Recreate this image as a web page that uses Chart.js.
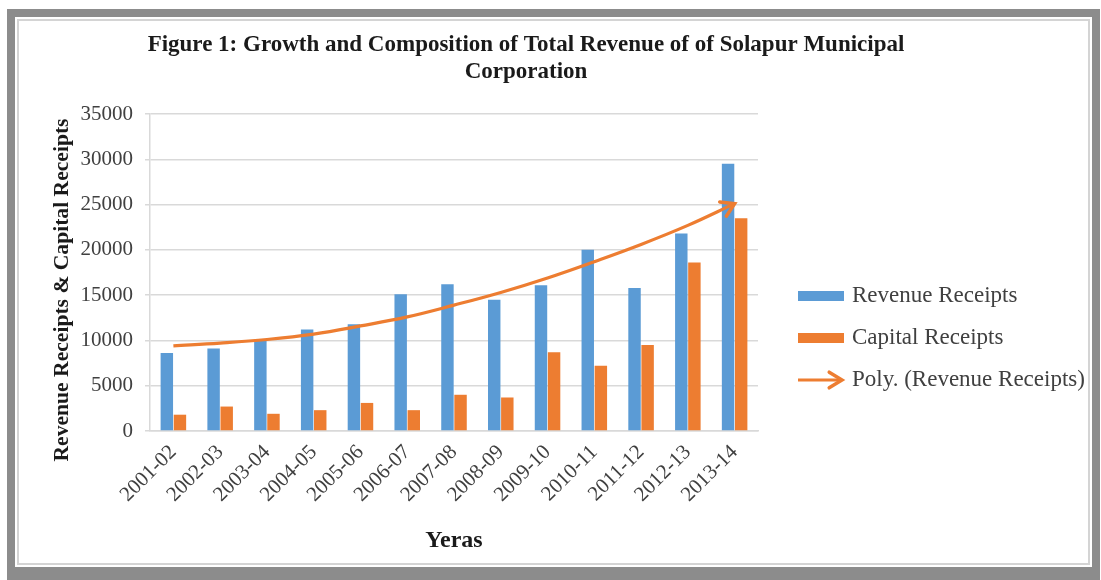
<!DOCTYPE html>
<html>
<head>
<meta charset="utf-8">
<script src="https://cdn.jsdelivr.net/npm/chart.js@4"></script>
<style>
    html, body { margin: 0; padding: 0; background: #fff; }
    #wrap { position: relative; width: 1101px; height: 580px; overflow: hidden; }
    #revenueChart { position: absolute; left: 0; top: 0; }
    /* grey picture frame around the chart */
    #frame {
        position: absolute; left: 7px; top: 9px; width: 1077px; height: 550px;
        border: 8px solid #8c8c8c;
        border-bottom-width: 13px;
        box-shadow: inset 0 0 0 2px #fff, inset 0 0 0 4px #d4d4d4;
        pointer-events: none;
    }
</style>
</head>
<body>
<div id="wrap">
    <canvas id="revenueChart" width="1101" height="580"></canvas>
    <div id="frame"></div>
</div>
<script>
// Years on the x axis
const years = ['2001-02', '2002-03', '2003-04', '2004-05', '2005-06', '2006-07', '2007-08',
    '2008-09', '2009-10', '2010-11', '2011-12', '2012-13', '2013-14'];

// Receipts (Rs. lakh)
const revenueReceipts = [8600, 9100, 10000, 11200, 11800, 15100, 16200, 14500, 16100, 20000, 15800, 21800, 29500];
const capitalReceipts = [1800, 2700, 1900, 2300, 3100, 2300, 4000, 3700, 8700, 7200, 9500, 18600, 23500];

// Polynomial trend of revenue receipts
const revenueTrend = [9400, 9700, 10100, 10700, 11600, 12600, 13900, 15300, 16900, 18700, 20600, 22700, 25100];

const yMax = 35000;
const yStep = 5000;

const BLUE = '#5B9BD5';
const ORANGE = '#ED7D31';
const SERIF = "'Liberation Serif', 'Times New Roman', serif";

const chartTitle = ['Figure 1: Growth and Composition of Total Revenue of of Solapur Municipal', 'Corporation'];
const yAxisTitle = 'Revenue Receipts & Capital Receipts';
const xAxisTitle = 'Yeras';

// Titles, side legend and trend arrow head are drawn here
const decorPlugin = {
    id: 'decor',
    afterDatasetsDraw(chart) {
        const ctx = chart.ctx;
        const pts = chart.getDatasetMeta(2).data;
        const end = pts[pts.length - 1];
        const prev = pts[pts.length - 2];
        const fromX = end.cp1x !== undefined ? end.cp1x : prev.x;
        const fromY = end.cp1y !== undefined ? end.cp1y : prev.y;
        drawArrowHead(ctx, end.x, end.y, Math.atan2(end.y - fromY, end.x - fromX));
    },
    afterDraw(chart) {
        const ctx = chart.ctx;
        ctx.save();
        ctx.fillStyle = '#1a1a1a';
        ctx.textAlign = 'center';
        ctx.textBaseline = 'middle';
        ctx.font = 'bold 23px ' + SERIF;
        ctx.fillText(chartTitle[0], 526, 45);
        ctx.fillText(chartTitle[1], 526, 72);

        // y axis title
        ctx.font = 'bold 21.6px ' + SERIF;
        ctx.translate(62, 290);
        ctx.rotate(-Math.PI / 2);
        ctx.fillText(yAxisTitle, 0, 0);
        ctx.restore();

        // legend
        ctx.save();
        ctx.font = '23px ' + SERIF;
        ctx.textBaseline = 'middle';
        chart.data.datasets.forEach((ds, i) => {
            const y = 296 + i * 42;
            if (ds.type === 'line') {
                ctx.strokeStyle = ds.borderColor;
                ctx.lineWidth = 3;
                ctx.beginPath();
                ctx.moveTo(798, y);
                ctx.lineTo(842, y);
                ctx.stroke();
                drawArrowHead(ctx, 842, y, 0);
            } else {
                ctx.fillStyle = ds.backgroundColor;
                ctx.fillRect(798, y - 5, 46, 10);
            }
            ctx.fillStyle = '#404040';
            ctx.fillText(ds.label, 852, y);
        });
        ctx.restore();
    }
};

function drawArrowHead(ctx, x, y, ang) {
    const len = 15;
    const spread = 0.55;
    ctx.save();
    ctx.strokeStyle = ORANGE;
    ctx.lineWidth = 3.5;
    ctx.lineCap = 'round';
    ctx.lineJoin = 'miter';
    ctx.beginPath();
    ctx.moveTo(x - len * Math.cos(ang - spread), y - len * Math.sin(ang - spread));
    ctx.lineTo(x, y);
    ctx.lineTo(x - len * Math.cos(ang + spread), y - len * Math.sin(ang + spread));
    ctx.stroke();
    ctx.restore();
}

const ctx = document.getElementById('revenueChart').getContext('2d');
new Chart(ctx, {
    data: {
        labels: years,
        datasets: [
            {
                type: 'bar',
                label: 'Revenue Receipts',
                data: revenueReceipts,
                backgroundColor: BLUE,
                categoryPercentage: 0.56,
                barPercentage: 0.95,
                order: 1,
            },
            {
                type: 'bar',
                label: 'Capital Receipts',
                data: capitalReceipts,
                backgroundColor: ORANGE,
                categoryPercentage: 0.56,
                barPercentage: 0.95,
                order: 1,
            },
            {
                type: 'line',
                label: 'Poly. (Revenue Receipts)',
                data: revenueTrend,
                borderColor: ORANGE,
                borderWidth: 3.2,
                pointRadius: 0,
                tension: 0.4,
                fill: false,
                order: 0,
            },
        ],
    },
    options: {
        responsive: false,
        animation: false,
        layout: {
            padding: { left: 80, right: 343, top: 114, bottom: 20 },
        },
        plugins: {
            legend: { display: false },
            title: { display: false },
            tooltip: { enabled: false },
        },
        scales: {
            x: {
                grid: { display: false },
                border: { display: true, color: '#d9d9d9', width: 1.5 },
                ticks: {
                    color: '#404040',
                    font: { family: SERIF, size: 21 },
                    minRotation: 45,
                    maxRotation: 45,
                    padding: 1,
                },
                title: {
                    display: true,
                    text: xAxisTitle,
                    color: '#1a1a1a',
                    font: { family: SERIF, size: 24, weight: 'bold' },
                    padding: { top: 4, bottom: 5 },
                },
                afterFit(scale) { scale.height = 129; },
            },
            y: {
                min: 0,
                max: yMax,
                grid: { color: '#d9d9d9', lineWidth: 1.5, tickLength: 5 },
                border: { display: true, color: '#d9d9d9', width: 1.5 },
                ticks: {
                    stepSize: yStep,
                    color: '#404040',
                    font: { family: SERIF, size: 21 },
                    padding: 12,
                    callback: value => String(value),
                },
                afterFit(scale) { scale.width = 70; },
            },
        },
    },
    plugins: [decorPlugin],
});
</script>
</body>
</html>
